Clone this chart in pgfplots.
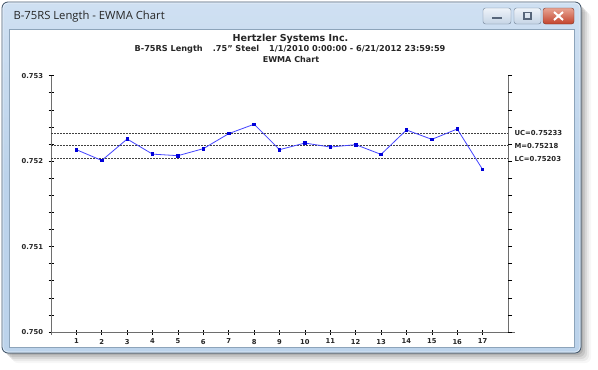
\documentclass[border=0pt]{standalone}
\usepackage{pgfplots}
\pgfplotsset{compat=1.18}
\usepackage{fontspec}
\setmainfont{DejaVu Sans}
\newfontfamily\winfont{Open Sans}
\definecolor{framebl}{HTML}{BCD3EB}
\definecolor{frametop}{HTML}{CFE0F2}
\definecolor{frameedge}{HTML}{44576B}
\definecolor{clientedge}{HTML}{8DA4BA}
\definecolor{btntop}{HTML}{EEF3F9}
\definecolor{btnbot}{HTML}{C5D4E5}
\definecolor{btnedge}{HTML}{6D7F93}
\definecolor{btnglyph}{HTML}{56657A}
\definecolor{closetop}{HTML}{E8A493}
\definecolor{closebot}{HTML}{C2432C}
\definecolor{closeedge}{HTML}{7A3426}
\definecolor{linebl}{HTML}{4444FF}
\definecolor{axgray}{HTML}{6E6E6E}
\begin{document}
\begin{tikzpicture}
\begin{scope}[x=1bp,y=-1bp]
% canvas
\fill[white] (0,0) rectangle (598,369);
% shadow
\foreach \o/\op in {10/0.03,8/0.05,6/0.07,4/0.09,2/0.1}{
  \fill[black,opacity=\op,rounded corners=6] (2+\o,2+\o) rectangle (581+\o,353+\o);
}
% frame
\fill[rounded corners=6,top color=frametop,bottom color=framebl,middle color=framebl] (2,2) rectangle (581,353);
\draw[frameedge,line width=0.8bp,rounded corners=6] (2,2) rectangle (581,353);
\draw[white,opacity=0.6,line width=0.6bp,rounded corners=5] (3,3) rectangle (580,352);
% client area
\fill[white] (9,29) rectangle (574,347);
\draw[clientedge,line width=0.5bp] (9,29) rectangle (574,347);
% title bar text
\node[anchor=west,font=\winfont\fontsize{11.3}{12}\selectfont,text=black!85] at (10,16.5) {B-75RS Length - EWMA Chart};
% buttons
\shade[rounded corners=2.5,top color=btntop,bottom color=btnbot,draw=btnedge] (483,8) rectangle (511,24);
\fill[btnglyph] (492,16.5) rectangle (502,19);
\shade[rounded corners=2.5,top color=btntop,bottom color=btnbot,draw=btnedge] (514,8) rectangle (541,24);
\draw[btnglyph,line width=1.2bp] (524,12.5) rectangle (531,19);
\shade[rounded corners=2.5,top color=closetop,bottom color=closebot,draw=closeedge] (543,8) rectangle (574,24);
\draw[white,line width=2bp] (554,12) -- (563,20) (563,12) -- (554,20);
% titles
\node[font=\bfseries\fontsize{9.6}{10}\selectfont,text=black!85] at (290.5,39.2) {Hertzler Systems Inc.};
\node[font=\bfseries\fontsize{8.2}{8}\selectfont,text=black!85] at (290,49.5) {B-75RS Length\hspace{10bp}.75" Steel\hspace{10bp}1/1/2010 0:00:00 - 6/21/2012 23:59:59};
\node[font=\bfseries\fontsize{8.1}{8}\selectfont,text=black!85] at (291,59.5) {EWMA Chart};
\end{scope}

\begin{axis}[
  at={(51bp,-332bp)}, anchor=south west,
  scale only axis, width=457bp, height=256.3bp,
  xmin=0, xmax=18, ymin=0.750, ymax=0.753,
  clip=false,
  axis line style={draw=none},
  xtick={1,...,17}, xtick pos=bottom,
  ytick={0.750,0.751,0.752,0.753}, ytick pos=left,
  minor y tick num=4,
  tick align=center,
  major tick length=5bp, minor tick length=5bp,
  tick style={black, line width=0.6bp},
  scaled y ticks=false,
  yticklabel style={/pgf/number format/fixed,/pgf/number format/fixed zerofill,/pgf/number format/precision=3},
  /pgf/number format/assume math mode=true,
  tick label style={font=\bfseries\fontsize{6.8}{7}\selectfont, text=black!85},
  xticklabel style={yshift=-1bp},
  yticklabel style={xshift=-2bp},
]
\draw[axgray,line width=1bp] (axis cs:0,0.753) -- (axis cs:0,0.750) -- ([xshift=7bp]axis cs:18,0.750);
\draw[axgray,line width=1bp] ([yshift=-3bp]axis cs:0,0.750) -- (axis cs:0,0.750);
\draw[axgray,line width=1bp] (axis cs:18,0.753) -- (axis cs:18,0.750);
\addplot[black!75, line width=0.6bp, dash pattern=on 2bp off 1bp] coordinates {(0,0.75233) (18,0.75233)};
\addplot[black!75, line width=0.6bp, dash pattern=on 2bp off 1bp] coordinates {(0,0.75218) (18,0.75218)};
\addplot[black!75, line width=0.6bp, dash pattern=on 2bp off 1bp] coordinates {(0,0.75203) (18,0.75203)};
\addplot[linebl, line width=0.8bp, mark=square*, mark size=1.25bp, mark options={fill=blue!85!black, draw=blue!85!black}] coordinates {
(1,0.752134) (2,0.752008) (3,0.752259) (4,0.752082) (5,0.752064) (6,0.752146)
(7,0.752322) (8,0.752432) (9,0.752134) (10,0.752212) (11,0.752165) (12,0.752193)
(13,0.752079) (14,0.752365) (15,0.752255) (16,0.752376) (17,0.751902)};
\node[anchor=west,font=\bfseries\fontsize{6.9}{7}\selectfont,text=black!85] at ([xshift=3bp]axis cs:18,0.75233) {UC=0.75233};
\node[anchor=west,font=\bfseries\fontsize{6.9}{7}\selectfont,text=black!85] at ([xshift=3bp]axis cs:18,0.75218) {M=0.75218};
\node[anchor=west,font=\bfseries\fontsize{6.9}{7}\selectfont,text=black!85] at ([xshift=3bp]axis cs:18,0.75203) {LC=0.75203};
\end{axis}
\begin{axis}[
  at={(51bp,-332bp)}, anchor=south west,
  scale only axis, width=457bp, height=256.3bp,
  xmin=0, xmax=18, ymin=0.750, ymax=0.753,
  axis line style={draw=none},
  xtick=\empty,
  ytick={0.750,0.751,0.752,0.753}, ytick pos=right,
  minor y tick num=4,
  tick align=outside,
  major tick length=4bp, minor tick length=4bp,
  tick style={black, line width=0.6bp},
  yticklabels={},
  scaled y ticks=false,
]
\addplot[draw=none] coordinates {(0,0.751)};
\end{axis}
\end{tikzpicture}
\end{document}
